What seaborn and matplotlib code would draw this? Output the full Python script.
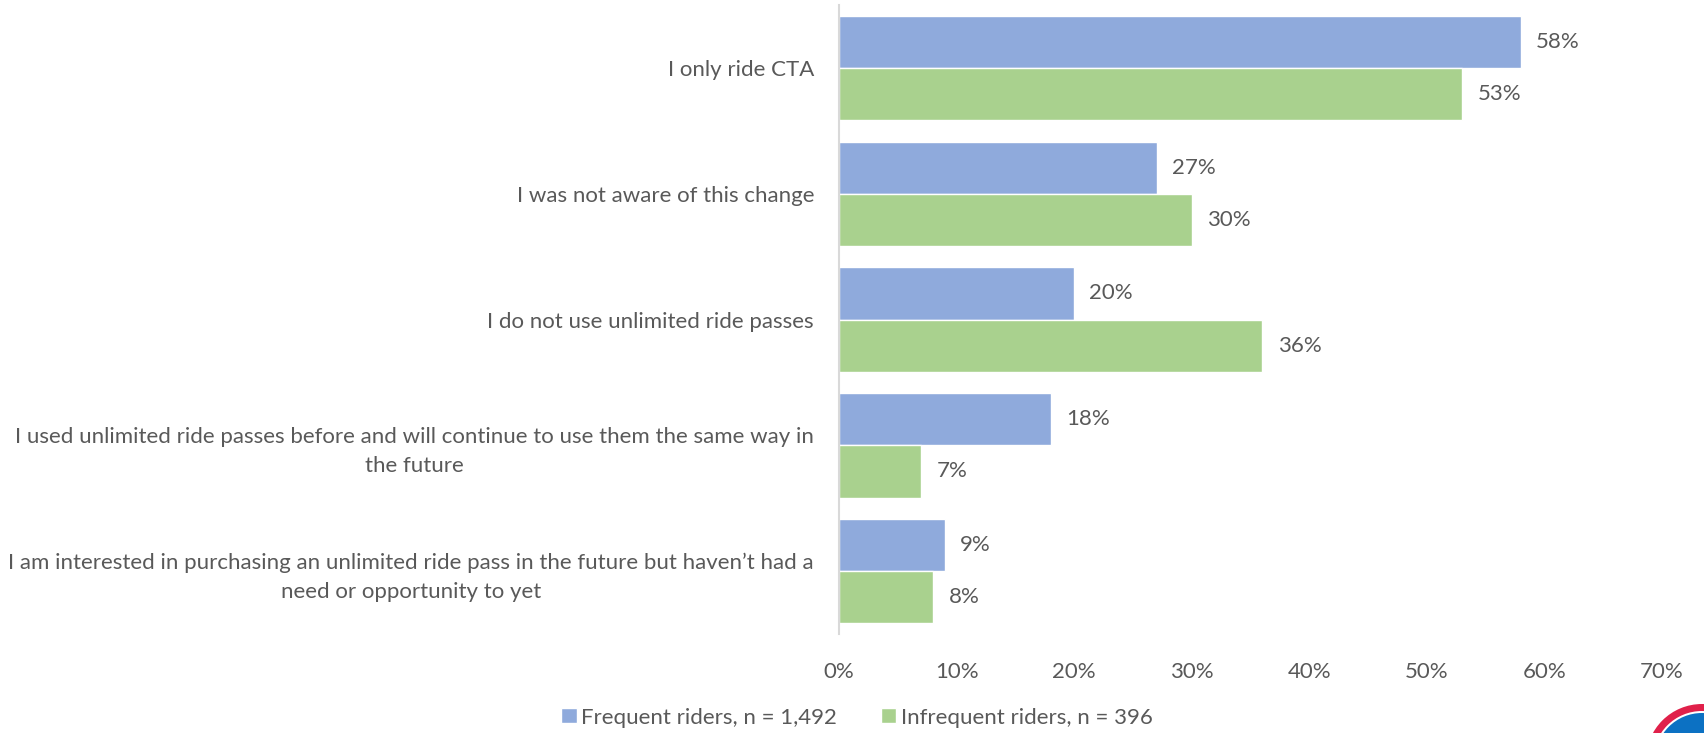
import matplotlib
matplotlib.use("Agg")
import matplotlib.pyplot as plt
from matplotlib.patches import Circle
import seaborn as sns
import pandas as pd

categories = [
    "I only ride CTA",
    "I was not aware of this change",
    "I do not use unlimited ride passes",
    "I used unlimited ride passes before and will continue to use them the same way in\nthe future",
    "I am interested in purchasing an unlimited ride pass in the future but haven\u2019t had a\nneed or opportunity to yet",
]
series_names = ["Frequent riders, n = 1,492", "Infrequent riders, n = 396"]
frequent = [58, 27, 20, 18, 9]
infrequent = [53, 30, 36, 7, 8]
x_ticks = [0, 10, 20, 30, 40, 50, 60, 70]

colors = ["#8FAADC", "#A9D18E"]
text_color = "#595959"
fs = 16

df = pd.DataFrame({
    "category": categories * 2,
    "group": [series_names[0]] * len(categories) + [series_names[1]] * len(categories),
    "value": frequent + infrequent,
})

sns.set_theme(style="white")
plt.rcParams["font.family"] = ["Lato", "DejaVu Sans"]

fig = plt.figure(figsize=(17.04, 7.33), dpi=100)
ax = fig.add_axes([0.4924, 0.135, 0.483, 0.858])

sns.barplot(data=df, y="category", x="value", hue="group", order=categories,
            hue_order=series_names, palette=colors, width=0.83, orient="h",
            saturation=1, ax=ax, errorbar=None)

for container in ax.containers:
    ax.bar_label(container, labels=[f"{v:.0f}%" for v in container.datavalues],
                 padding=11, fontsize=fs, color=text_color)

ax.set_xlim(0, 70)
ax.set_ylim(4.5, -0.5)
ax.set_xticks(x_ticks)
ax.set_xticklabels([f"{t}%" for t in x_ticks], fontsize=fs, color=text_color)
ax.tick_params(axis="x", length=0, pad=20)
ax.tick_params(axis="y", length=0, pad=18)
for lbl in ax.get_yticklabels():
    lbl.set_fontsize(fs)
    lbl.set_color(text_color)
    lbl.set_multialignment("center")
    lbl.set_linespacing(1.55)
ax.set_xlabel("")
ax.set_ylabel("")
for side in ["top", "right", "bottom"]:
    ax.spines[side].set_visible(False)
ax.spines["left"].set_color("#D9D9D9")
ax.spines["left"].set_linewidth(1.5)

handles, labels = ax.get_legend_handles_labels()
ax.legend_.remove()
fig.legend(handles, labels, loc="center", bbox_to_anchor=(0.503, 0.021), ncol=2,
           frameon=False, fontsize=fs, handlelength=0.68, handleheight=0.68,
           handletextpad=0.2, columnspacing=2.0, labelcolor=text_color)

# corner emblem
cx, cy = 1702 / 100, -0.27
fig.add_artist(Circle((cx, cy), 0.56, transform=fig.dpi_scale_trans,
                      facecolor="#E0204A", edgecolor="none", clip_on=False))
fig.add_artist(Circle((cx, cy), 0.49, transform=fig.dpi_scale_trans,
                      facecolor="white", edgecolor="none", clip_on=False))
fig.add_artist(Circle((cx, cy), 0.47, transform=fig.dpi_scale_trans,
                      facecolor="#0C71C3", edgecolor="none", clip_on=False))

fig.savefig("out.png", dpi=100)
